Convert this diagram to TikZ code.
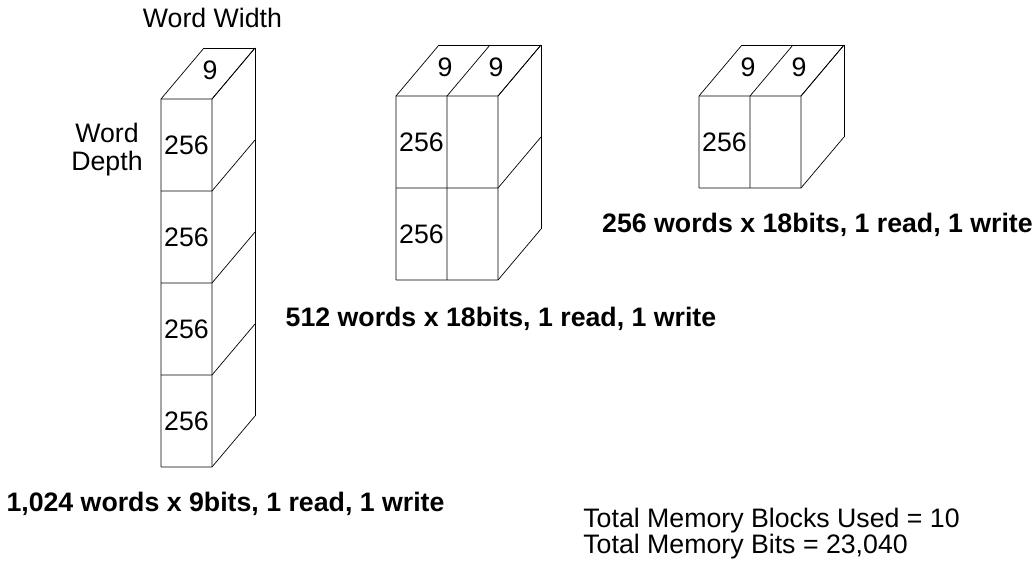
\documentclass[tikz,border=0pt]{standalone}
\usepackage{fontspec}
\setmainfont{Liberation Sans}
\usepackage{tikz}
\usetikzlibrary{positioning}
\newcommand\TightLines{\lineskiplimit=-20pt\relax}
\newcommand\DrawMemBlock[4]{% corner, columns, rows, name
  \begin{scope}[shift={#1}]
    \pgfmathsetmacro\bw{#2*\W}
    \pgfmathsetmacro\bh{#3*\H}
    % columns: front edges and top face
    \foreach \i in {0,...,#2}
      \draw (\i*\W,0) -- (\i*\W,\bh) -- ++(\Dx,\Dy);
    % rows: front edges and side face
    \foreach \j in {0,...,#3}
      \draw (0,\j*\H) -- (\bw,\j*\H) -- ++(\Dx,\Dy);
    \draw (\Dx,\bh+\Dy) -- (\bw+\Dx,\bh+\Dy) -- (\bw+\Dx,\Dy);
    \foreach \i in {1,...,#2}
      \node[cell] (#4-w\i) at ({(\i-0.5)*\W+\Dx/2+0.04},{\bh+\Dy/2+0.06}) {9};
    \foreach \j in {1,...,#3}
      \node[cell] (#4-d\j) at (\W/2,{(\j-0.5)*\H}) {256};
  \end{scope}
}
\tikzset{%
  line width=1.3pt,
  cell/.style={inner sep=0pt,font=\fontsize{15.2}{18}\selectfont},
  caption/.style={inner sep=0pt,anchor=base,font=\fontsize{15.2}{18}\selectfont\bfseries}
}

\begin{document}
\begin{tikzpicture}
\def\W{1.02} % cell width
\def\H{1.84} % cell height
\def\Dx{0.86} % depth x
\def\Dy{1.02} % depth y
\useasboundingbox (0,0) rectangle (20.68,11.3);

\DrawMemBlock{(3.22,1.96)}{1}{4}{deep}
\DrawMemBlock{(7.92,5.70)}{2}{2}{mid}
\DrawMemBlock{(13.98,7.54)}{2}{1}{wide}

\node[cell,anchor=base] (width) at (4.25,10.74) {Word Width};
\node[cell,align=center,font=\fontsize{15.2}{15.9}\selectfont] (depth) at (2.14,8.30) {Word\\Depth};

\node[caption] (capdeep) at (4.51,1.06) {1,024 words x 9bits, 1 read, 1 write};
\node[caption] (capmid) at (10.02,4.76) {512 words x 18bits, 1 read, 1 write};
\node[caption] (capwide) at (16.35,6.64) {256 words x 18bits, 1 read, 1 write};

\node[cell,anchor=west,align=left,
  font=\fontsize{15.2}{14.4}\selectfont\TightLines] (total) at (11.66,0.63)
  {Total Memory Blocks Used = 10\\Total Memory Bits = 23,040};
\end{tikzpicture}
\end{document}
